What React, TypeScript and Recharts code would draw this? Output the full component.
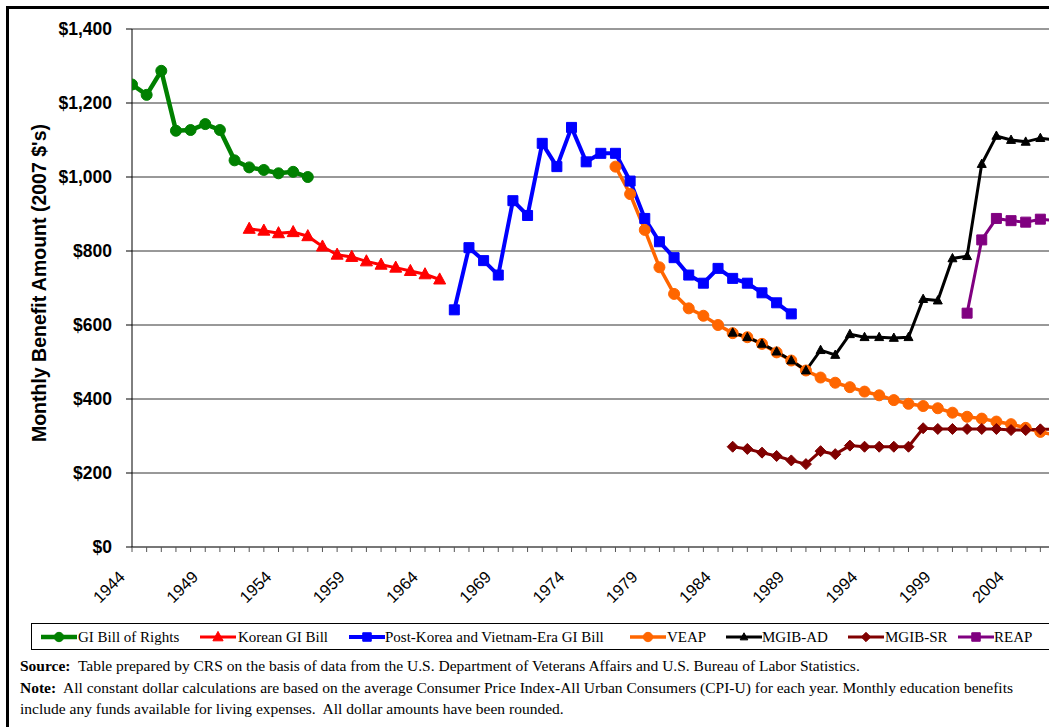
import { CartesianGrid, Line, LineChart, XAxis, YAxis } from "recharts";

// x axis
const firstYear = 1944;
const lastYear = 2007;
const labelYears = [1944, 1949, 1954, 1959, 1964, 1969, 1974, 1979, 1984, 1989, 1994, 1999, 2004];
const dollarTicks = [0, 200, 400, 600, 800, 1000, 1200, 1400];

// monthly benefit, 2007 dollars
const giBillStart = 1944;
const giBill = [1250, 1222, 1287, 1125, 1127, 1143, 1127, 1045, 1026, 1019, 1010, 1014, 1000];

const koreanStart = 1952;
const korean = [860, 855, 848, 851, 840, 812, 790, 784, 772, 763, 755, 746, 737, 723];

const postKoreaStart = 1966;
const postKorea = [
  641, 809, 774, 735, 936, 896, 1091, 1028, 1134, 1041, 1064, 1064, 989, 888, 825, 782, 735, 713,
  753, 726, 713, 687, 660, 630,
];

const veapStart = 1977;
const veap = [
  1028, 954, 857, 756, 684, 645, 625, 600, 578, 567, 549, 526, 504, 477, 458, 444, 432, 420, 410,
  397, 387, 381, 375, 363, 352, 347, 339, 332, 322, 311, 303,
];

const mgibAdStart = 1985;
const mgibAd = [
  579, 567, 549, 528, 504, 477, 532, 519, 575, 567, 567, 565, 567, 670, 666, 780, 786, 1035, 1111,
  1100, 1095, 1105, 1100,
];

const mgibSrStart = 1985;
const mgibSr = [
  271, 265, 255, 246, 234, 224, 259, 251, 274, 271, 271, 271, 271, 321, 319, 319, 319, 319, 319,
  316, 316, 318, 318,
];

const reapStart = 2001;
const reap = [632, 830, 888, 882, 878, 886, 882];

type Shape = "circle" | "triangle" | "square" | "diamond";

const series = [
  { key: "gi", name: "GI Bill of Rights", start: giBillStart, values: giBill, color: "#008000", width: 4.5, shape: "circle" as Shape, size: 5.5 },
  { key: "korean", name: "Korean GI Bill", start: koreanStart, values: korean, color: "#ff0000", width: 3, shape: "triangle" as Shape, size: 6 },
  { key: "postKorea", name: "Post-Korea and Vietnam-Era GI Bill", start: postKoreaStart, values: postKorea, color: "#0000ff", width: 4, shape: "square" as Shape, size: 5 },
  { key: "veap", name: "VEAP", start: veapStart, values: veap, color: "#ff6600", width: 3.5, shape: "circle" as Shape, size: 5.5 },
  { key: "mgibAd", name: "MGIB-AD", start: mgibAdStart, values: mgibAd, color: "#000000", width: 3, shape: "triangle" as Shape, size: 4.5 },
  { key: "mgibSr", name: "MGIB-SR", start: mgibSrStart, values: mgibSr, color: "#800000", width: 3, shape: "diamond" as Shape, size: 5.5 },
  { key: "reap", name: "REAP", start: reapStart, values: reap, color: "#800080", width: 3, shape: "square" as Shape, size: 5 },
];

const allYears: number[] = [];
for (let y = firstYear; y <= lastYear; y++) allYears.push(y);

const table = allYears.map((year) => {
  const row: Record<string, number | null> = { year };
  series.forEach((s) => {
    const i = year - s.start;
    row[s.key] = i >= 0 && i < s.values.length ? s.values[i] : null;
  });
  return row;
});

const sans = "'Liberation Sans', Arial, sans-serif";
const serif = "'Liberation Serif', 'Times New Roman', serif";

const markerPath = (shape: Shape, cx: number, cy: number, r: number) => {
  if (shape === "triangle") return `M${cx},${cy - r * 1.1} L${cx + r},${cy + r * 0.75} L${cx - r},${cy + r * 0.75} Z`;
  if (shape === "diamond") return `M${cx},${cy - r} L${cx + r},${cy} L${cx},${cy + r} L${cx - r},${cy} Z`;
  return `M${cx - r},${cy - r} h${2 * r} v${2 * r} h${-2 * r} Z`;
};

const Marker = ({ shape, cx, cy, r, color }: { shape: Shape; cx: number; cy: number; r: number; color: string }) =>
  shape === "circle" ? (
    <circle cx={cx} cy={cy} r={r} fill={color} stroke={color} />
  ) : (
    <path d={markerPath(shape, cx, cy, r)} fill={color} stroke={color} />
  );

const makeDot = (shape: Shape, r: number, color: string) => (props: any) => {
  const { cx, cy, index, value } = props;
  if (value == null || cx == null || cy == null || Number.isNaN(cy)) return <g key={`e-${index}`} />;
  return (
    <g key={`d-${index}`}>
      <Marker shape={shape} cx={cx} cy={cy} r={r} color={color} />
    </g>
  );
};

const XTick = (props: any) => {
  const { x, y, payload } = props;
  if (!labelYears.includes(payload.value)) return <g />;
  const ax = x - 6;
  const ay = y + 24;
  return (
    <text x={ax} y={ay} transform={`rotate(-45 ${ax} ${ay})`} textAnchor="end" fontSize={16.5} fontFamily={sans} fill="#000">
      {payload.value}
    </text>
  );
};

const legendPos = [
  { line: 41, text: 78 },
  { line: 200, text: 238 },
  { line: 349, text: 385 },
  { line: 630, text: 667 },
  { line: 726, text: 762 },
  { line: 848, text: 885 },
  { line: 958, text: 994 },
];

export default function App() {
  return (
    <div style={{ position: "fixed", left: 0, top: 0, width: 1049, height: 727, overflow: "hidden", background: "#fff" }}>
      <div
        style={{ position: "absolute", left: 6, top: 6, width: 1120, height: 800, border: "3px solid #000", boxSizing: "border-box" }}
      />
      <div style={{ position: "absolute", left: 0, top: 0 }}>
        <LineChart width={1100} height={620} data={table} margin={{ top: 29, right: 45, bottom: 13, left: 0 }}>
          <CartesianGrid vertical={false} stroke="#333" />
          <XAxis
            type="number"
            dataKey="year"
            domain={[firstYear, lastYear]}
            ticks={allYears}
            interval={0}
            height={60}
            tickSize={5}
            tick={<XTick />}
            axisLine={{ stroke: "#777", strokeWidth: 2 }}
            tickLine={{ stroke: "#555" }}
            allowDataOverflow
          />
          <YAxis
            width={132}
            domain={[0, 1400]}
            ticks={dollarTicks}
            interval={0}
            tickSize={6}
            tickMargin={14}
            tickFormatter={(v: number) => `$${v.toLocaleString("en-US")}`}
            tick={{ fontSize: 17.5, fontWeight: "bold", fill: "#000", fontFamily: sans }}
            axisLine={{ stroke: "#000" }}
            tickLine={{ stroke: "#000" }}
          />
          {series.map((s) => (
            <Line
              key={s.key}
              type="linear"
              dataKey={s.key}
              name={s.name}
              stroke={s.color}
              strokeWidth={s.width}
              dot={makeDot(s.shape, s.size, s.color)}
              activeDot={false}
              isAnimationActive={false}
            />
          ))}
        </LineChart>
      </div>
      <div
        style={{
          position: "absolute",
          left: 39,
          top: 283,
          transform: "translate(-50%, -50%) rotate(-90deg)",
          whiteSpace: "nowrap",
          fontFamily: sans,
          fontWeight: "bold",
          fontSize: 19.5,
        }}
      >
        Monthly Benefit Amount (2007 $'s)
      </div>
      <div
        style={{ position: "absolute", left: 31, top: 623, width: 1100, height: 27, border: "1px solid #000", boxSizing: "border-box" }}
      >
        {series.map((s, i) => (
          <div key={s.key}>
            <svg style={{ position: "absolute", left: legendPos[i].line - 32, top: 3 }} width={36} height={20}>
              <line x1={0} y1={10} x2={36} y2={10} stroke={s.color} strokeWidth={s.width} />
              <Marker shape={s.shape} cx={18} cy={10} r={s.size * 0.85} color={s.color} />
            </svg>
            <span
              style={{
                position: "absolute",
                left: legendPos[i].text - 32,
                top: 3,
                fontFamily: serif,
                fontSize: 15,
                whiteSpace: "nowrap",
                lineHeight: "20px",
              }}
            >
              {s.name}
            </span>
          </div>
        ))}
      </div>
      <div style={{ position: "absolute", left: 20, top: 655, width: 1025, fontFamily: serif, fontSize: 15.5, lineHeight: "21.5px" }}>
        <div>
          <b>Source:</b>&nbsp; Table prepared by CRS on the basis of data from the U.S. Department of Veterans Affairs and U.S. Bureau of Labor Statistics.
        </div>
        <div>
          <b>Note:</b>&nbsp; All constant dollar calculations are based on the average Consumer Price Index-All Urban Consumers (CPI-U) for each year. Monthly education benefits
        </div>
        <div>include any funds available for living expenses.&nbsp; All dollar amounts have been rounded.</div>
      </div>
    </div>
  );
}
